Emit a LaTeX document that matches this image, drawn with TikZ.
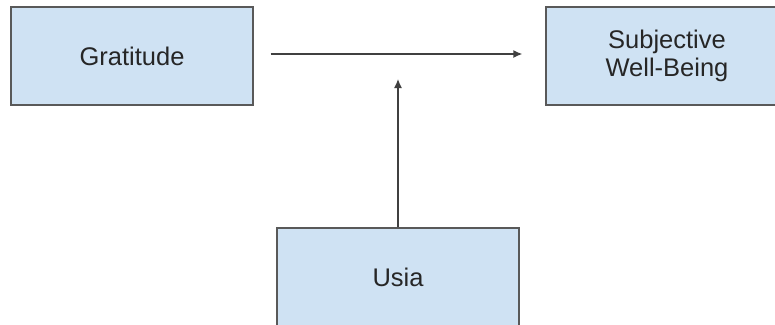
\documentclass[tikz,border=0pt]{standalone}
\usepackage{fontspec}
\setmainfont{Liberation Sans}
\usepackage{xcolor}
\usetikzlibrary{positioning,calc,arrows.meta}
\definecolor{boxfill}{HTML}{CFE2F3}
\definecolor{boxline}{HTML}{595959}
\definecolor{arrline}{HTML}{404040}

\begin{document}
\begin{tikzpicture}[x=1pt,y=-1pt,
    var/.style={draw=boxline, line width=1.3pt, fill=boxfill, minimum width=242pt, minimum height=98pt,
        align=center, inner sep=0pt, font=\fontsize{25.5}{28}\selectfont, text=black!85},
    arr/.style={draw=arrline, line width=1.3pt, -{Latex[length=9pt,width=8pt]}}]
    \useasboundingbox (0,0) rectangle (775,324);
    \node[var] (grat) at (132,56) {Gratitude};
    \node[var] (swb) at (667,56) {Subjective\\Well-Being};
    \node[var] (usia) at (398,277) {Usia};
    \coordinate (tip) at (398,79);
    \draw[arr] ([xshift=17pt,yshift=2pt]grat.east) -- ([xshift=-23pt,yshift=2pt]swb.west);
    \draw[arr] (usia.north) -- (tip);
\end{tikzpicture}
\end{document}
